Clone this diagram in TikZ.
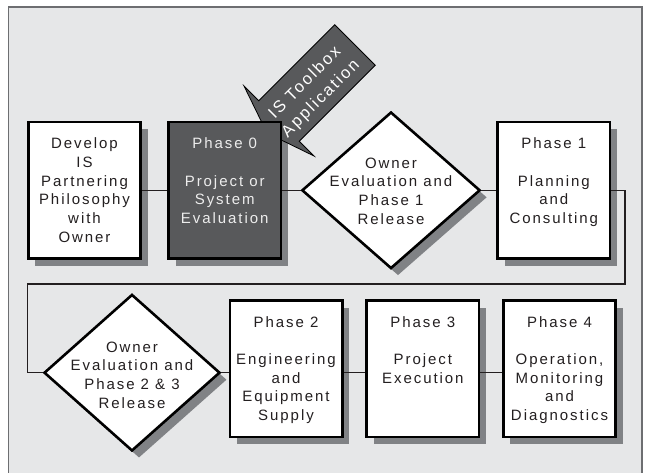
\documentclass[tikz,border=0pt]{standalone}
\usepackage{fontspec}
\newfontfamily\diagfont{Liberation Sans}[LetterSpace=13]
\usetikzlibrary{shapes.geometric,shadows}

\definecolor{panel}{HTML}{E6E7E8}
\definecolor{panelrule}{HTML}{6D6E71}
\definecolor{ink}{HTML}{231F20}
\definecolor{slate}{HTML}{58595B}
\definecolor{shade}{HTML}{808285}
\definecolor{paletext}{HTML}{EDEDED}

% fixed-size box body with the text hung from the top edge
\newcommand\boxlines[1]{\parbox[c][136.4pt][t]{112.4pt}{\centering\rule{0pt}{26.5pt}#1}}

\tikzset{
  txt/.style={font=\diagfont\fontsize{15}{18.7}\selectfont, text=ink},
  stepbox/.style={txt, rectangle, draw=black, line width=2.6pt, fill=white, inner sep=0pt,
    general shadow={fill=shade, shadow xshift=7pt, shadow yshift=-7pt}},
  darkbox/.style={stepbox, fill=slate, text=paletext},
  gate/.style={diamond, draw=black, line width=2.6pt, fill=white, inner sep=0pt,
    general shadow={fill=shade, shadow xshift=7pt, shadow yshift=-7pt}},
  gatetext/.style={txt, align=center, inner sep=0pt},
  wire/.style={draw=ink, line width=1.1pt},
  pointer/.style={fill=slate, draw=black, line width=0.8pt, line join=miter},
  pointertext/.style={font=\diagfont\fontsize{16.5}{22.5}\selectfont, text=white, align=center, inner sep=0pt}
}

\begin{document}
\begin{tikzpicture}[x=1pt,y=-1pt]
\useasboundingbox (0,0) rectangle (648,472);
\clip (0,0) rectangle (648,472);

% panel
\draw[fill=panel, draw=panelrule, line width=1.6pt] (8.3,6.7) rectangle (642,490);

% top row
\node[stepbox]  (dev) at (84.5,190.3)  {\boxlines{Develop\\IS\\Partnering\\Philosophy\\with\\Owner}};
\node[darkbox]  (ph0) at (224.7,190.3) {\boxlines{Phase 0\\[18.7pt]Project or\\System\\Evaluation}};
\node[gate, minimum width=178.3pt, minimum height=156.6pt] (rel1) at (391,190.3) {};
\node[gatetext] (rel1t) at (391,191) {Owner\\Evaluation and\\Phase 1\\Release};
\node[stepbox]  (ph1) at (553.85,190.3) {\boxlines{Phase 1\\[18.7pt]Planning\\and\\Consulting}};

% bottom row
\node[gate, minimum width=176pt, minimum height=156.6pt] (rel2) at (132,372.7) {};
\node[gatetext] (rel2t) at (132,375) {Owner\\Evaluation and\\Phase 2 \& 3\\Release};
\node[stepbox]  (ph2) at (286,368.8)    {\boxlines{Phase 2\\[18.7pt]Engineering\\and\\Equipment\\Supply}};
\node[stepbox]  (ph3) at (422.85,368.8) {\boxlines{Phase 3\\[18.7pt]Project\\Execution}};
\node[stepbox]  (ph4) at (559.5,368.8)  {\boxlines{Phase 4\\[18.7pt]Operation,\\Monitoring\\and\\Diagnostics}};

% connectors
\coordinate (turnR) at (625,284);
\coordinate (turnL) at (27.3,284);
\draw[wire] (dev.east) -- (ph0.west);
\draw[wire] (ph0.east) -- (rel1.west);
\draw[wire] (rel1.east) -- (ph1.west);
\draw[wire] (ph1.east) -| (turnR) -- (turnL) |- (rel2.west);
\draw[wire] (rel2.east) -- (rel2.east -| ph2.west);
\draw[wire] (ph2.east |- rel2.east) -- (ph3.west |- rel2.east);
\draw[wire] (ph3.east |- rel2.east) -- (ph4.west |- rel2.east);

% block arrow pointing into Phase 0, kept behind that box
\begin{scope}[even odd rule]
  \clip (0,0) rectangle (648,472) (ph0.north west) rectangle (ph0.south east);
  \draw[pointer] (334.75,24.75) -- (375.25,65.25) -- (299.25,141.25) -- (314,156)
    -- (267,133) -- (244,86) -- (258.75,100.75) -- cycle;
\end{scope}
\node[pointertext, rotate=45] (toolbox) at (313,91) {IS Toolbox\\Application};

\end{tikzpicture}
\end{document}
